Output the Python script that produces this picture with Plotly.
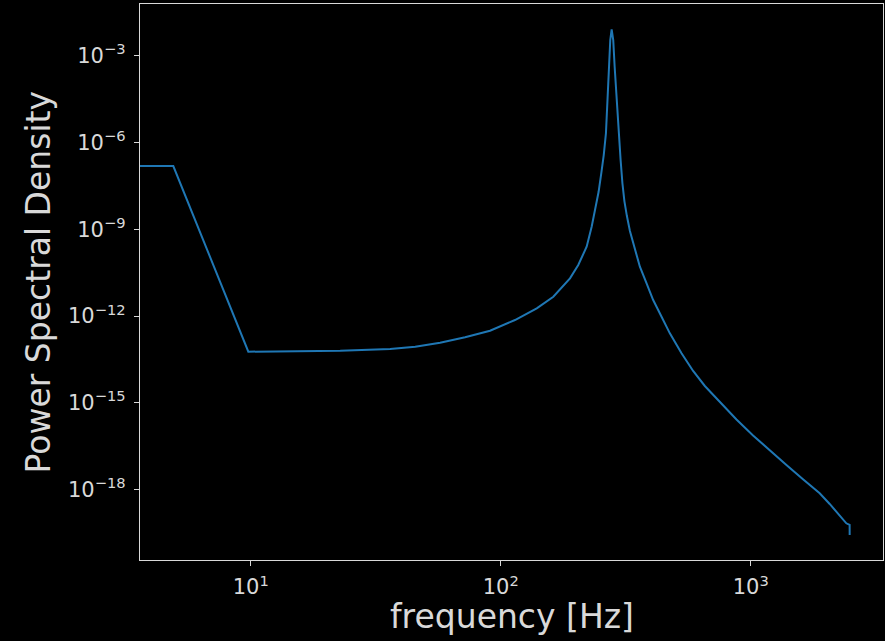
import plotly.graph_objects as go

# Data
freq_hz = [3.0, 4.9, 9.78, 14.4, 22.8, 36.1, 45.5, 57.2, 72.0, 90.6, 114.0,
           139.3, 162.3, 189.2, 204.2, 220.6, 231.0, 238.2, 246.2, 252.8, 258.2,
           263.5, 267.7, 270.9, 274.2, 277.7, 281.8, 285.5, 290.8, 296.1, 301.6,
           306.6, 312.3, 319.6, 328.6, 344.1, 360.2, 383.1, 407.1, 439.8, 474.7,
           528.6, 588.2, 655.2, 751.7, 876.9, 1021.4, 1191.0, 1389.0, 1618.0,
           1887.0, 2069.0, 2200.0, 2412.0, 2486.0, 2487.0]
psd = [1.52e-7, 1.52e-7, 5.85e-14, 6.04e-14, 6.33e-14, 7.24e-14, 8.69e-14, 1.20e-13,
       1.84e-13, 3.10e-13, 7.27e-13, 1.85e-12, 4.64e-12, 2.0e-11, 5.78e-11, 2.48e-10,
       1.22e-9, 4.58e-9, 1.92e-8, 9.42e-8, 3.64e-7, 2.09e-6, 2.89e-5, 4.08e-4,
       3.42e-3, 8.0e-3, 3.42e-3, 4.08e-4, 2.89e-5, 2.09e-6, 2.45e-7,
       3.93e-8, 9.38e-9, 2.84e-9, 8.63e-10, 2.06e-10, 5.05e-11, 1.35e-11,
       3.57e-12, 9.46e-13, 2.52e-13, 5.15e-14, 1.26e-14, 3.82e-15, 1.07e-15,
       2.66e-16, 7.45e-17, 2.26e-17, 7.13e-18, 2.29e-18, 7.51e-19, 3.21e-19,
       1.74e-19, 6.9e-20, 6.04e-20, 2.72e-20]

x_tickvals = [10, 100, 1000]
x_ticktext = ["10<sup>1</sup>", "10<sup>2</sup>", "10<sup>3</sup>"]
y_tickvals = [1e-3, 1e-6, 1e-9, 1e-12, 1e-15, 1e-18]
y_ticktext = ["10<sup>\u22123</sup>", "10<sup>\u22126</sup>", "10<sup>\u22129</sup>",
              "10<sup>\u221212</sup>", "10<sup>\u221215</sup>", "10<sup>\u221218</sup>"]

FG = "#d9d9d9"
FONT = "DejaVu Sans"

fig = go.Figure()
fig.add_trace(go.Scatter(x=freq_hz, y=psd, mode="lines",
                         line=dict(color="#1f77b4", width=2), showlegend=False))

L, R, T, B = 139.6, 1.5, 4, 81
fig.update_layout(
    width=885, height=641,
    margin=dict(l=L, r=R, t=T, b=B, pad=0),
    paper_bgcolor="black", plot_bgcolor="black",
    font=dict(family=FONT, color=FG, size=21),
)
fig.update_xaxes(type="log", range=[0.557, 3.529], tickvals=x_tickvals, ticktext=x_ticktext,
                 showgrid=False, zeroline=False, showline=True, linecolor=FG, linewidth=1.3,
                 mirror=True, ticks="outside", ticklen=5, tickwidth=1.2, tickcolor=FG,
                 ticklabelstandoff=3,
                 tickfont=dict(family=FONT, size=21, color=FG))
fig.update_yaxes(type="log", range=[-20.43, -1.22], tickvals=y_tickvals, ticktext=y_ticktext,
                 showgrid=False, zeroline=False, showline=True, linecolor=FG, linewidth=1.3,
                 mirror=True, ticks="outside", ticklen=5, tickwidth=1.2, tickcolor=FG,
                 ticklabelstandoff=4,
                 tickfont=dict(family=FONT, size=21, color=FG))

fig.add_annotation(text="frequency [Hz]", xref="paper", yref="paper", x=0.5, y=0,
                   xanchor="center", yanchor="middle", yshift=-56, showarrow=False,
                   font=dict(family=FONT, size=33, color=FG))
fig.add_annotation(text="Power Spectral Density", xref="paper", yref="paper", x=0, y=0.5,
                   xanchor="center", yanchor="middle", xshift=38 - L, textangle=-90,
                   showarrow=False, font=dict(family=FONT, size=33, color=FG))

fig.write_html("out.html")
